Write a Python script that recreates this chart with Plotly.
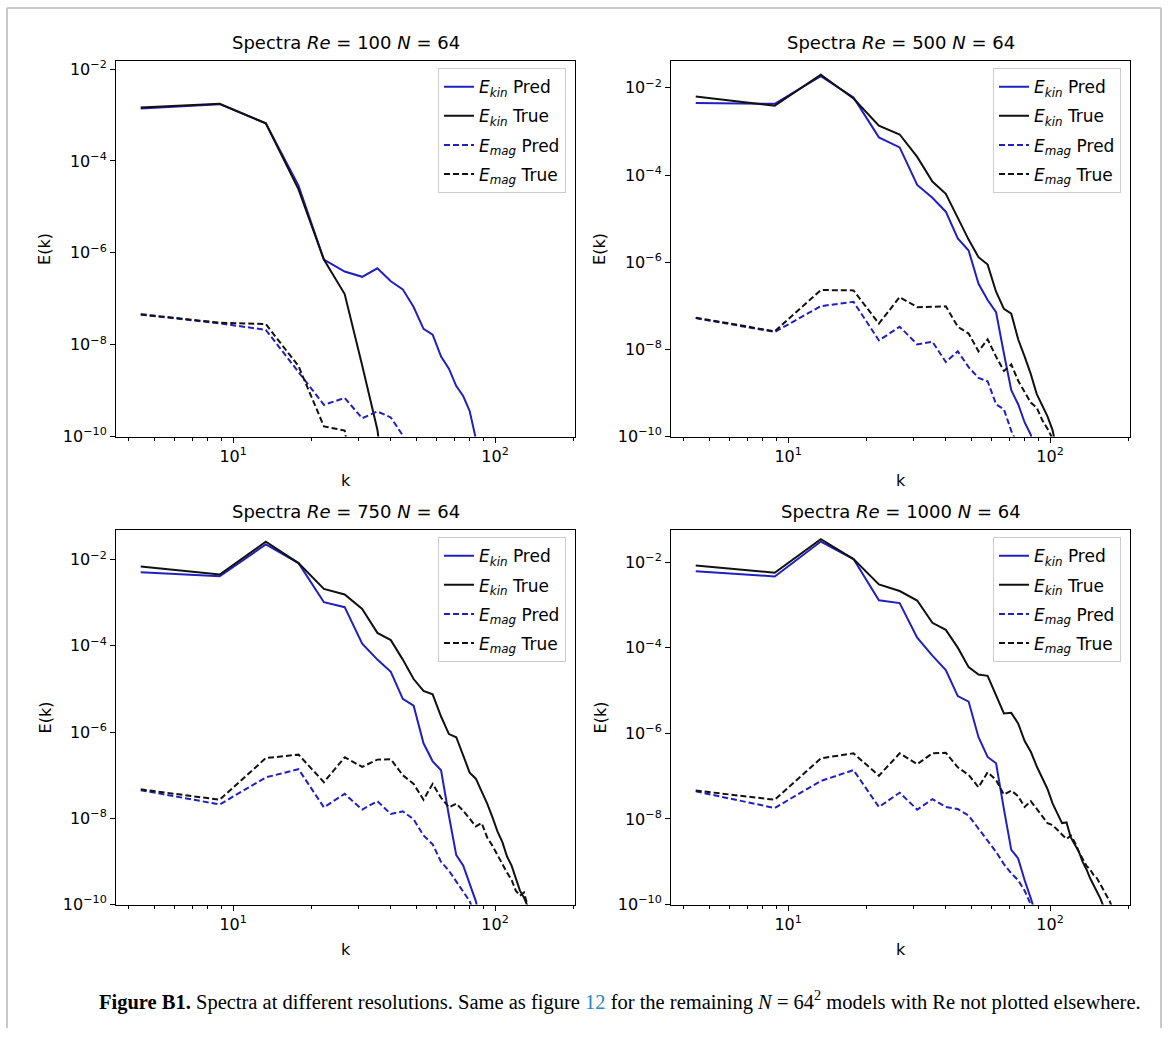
import plotly.graph_objects as go

# ---------------- data ----------------
K = [4.44, 8.89, 13.33, 17.77, 22.21, 26.66, 31.10, 35.54, 39.99, 44.43,
     48.87, 53.31, 57.76, 62.20, 66.64, 71.09, 75.53, 79.97, 84.42, 88.86,
     93.30, 97.74, 102.19, 106.63, 111.07, 115.52, 119.96, 124.40, 128.85, 133.29,
     137.73, 142.17, 146.62, 151.06, 155.50, 159.95, 164.39, 168.83, 173.28, 177.72]

RE_VALUES = [100, 500, 750, 1000]

ekin_pred_100 = [1.38e-3, 1.72e-3, 6.6e-4, 2.9e-5, 7.1e-7, 3.9e-7, 3.0e-7, 4.6e-7, 2.4e-7, 1.6e-7,
                 6.6e-8, 2.2e-8, 1.65e-8, 5.5e-9, 3.0e-9, 1.25e-9, 7.6e-10, 3.6e-10, 9e-11, 1e-11]
ekin_true_100 = [1.45e-3, 1.75e-3, 6.6e-4, 2.4e-5, 7.1e-7, 1.26e-7, 3.5e-9, 1.4e-10, 1e-12]
emag_pred_100 = [4.5e-8, 2.9e-8, 2.1e-8, 2.6e-9, 4.9e-10, 6.9e-10, 2.5e-10, 3.5e-10, 2.6e-10, 1.05e-10, 3e-11]
emag_true_100 = [4.6e-8, 3.0e-8, 2.8e-8, 3.4e-9, 1.66e-10, 1.35e-10, 1e-12]

ekin_pred_500 = [4.5e-3, 4.3e-3, 1.85e-2, 6.0e-3, 7.3e-4, 4.3e-4, 5.9e-5, 3.0e-5, 1.44e-5, 3.5e-6,
                 1.85e-6, 3.2e-7, 1.35e-7, 7.1e-8, 8e-9, 1.15e-9, 5.5e-10, 2.1e-10, 1.1e-10, 2e-11]
ekin_true_500 = [6.3e-3, 3.9e-3, 2.0e-2, 5.7e-3, 1.35e-3, 8.5e-4, 2.6e-4, 7.1e-5, 3.7e-5, 1.0e-5,
                 3.3e-6, 1.3e-6, 8.8e-7, 2.1e-7, 8.5e-8, 6.6e-8, 1.7e-8, 6.8e-9, 2.7e-9, 9.5e-10,
                 5.2e-10, 2.9e-10, 1.4e-10, 4e-11]
emag_pred_500 = [5.2e-8, 2.5e-8, 9.8e-8, 1.23e-7, 1.6e-8, 3.3e-8, 1.3e-8, 1.5e-8, 5.1e-9, 9e-9,
                 3.9e-9, 2.2e-9, 1.85e-9, 5.5e-10, 4.2e-10, 1.35e-10, 6e-11]
emag_true_500 = [5.3e-8, 2.6e-8, 2.3e-7, 2.25e-7, 3.9e-8, 1.58e-7, 9.3e-8, 9.7e-8, 9.7e-8, 3.3e-8,
                 2.3e-8, 9e-9, 1.7e-8, 6.8e-9, 3.2e-9, 4.5e-9, 1.9e-9, 1.05e-9, 6e-10, 4.6e-10,
                 2.4e-10, 1.5e-10, 9e-11, 1e-11]

ekin_pred_750 = [5.1e-3, 4.1e-3, 2.25e-2, 8.3e-3, 1.03e-3, 7.9e-4, 1.13e-4, 4.8e-5, 2.5e-5, 5.9e-6,
                 4.1e-6, 5.5e-7, 2.1e-7, 1.3e-7, 1.15e-8, 1.4e-9, 8.1e-10, 3.1e-10, 1.2e-10, 3e-11]
ekin_true_750 = [6.9e-3, 4.5e-3, 2.6e-2, 8.3e-3, 2.1e-3, 1.56e-3, 7.2e-4, 2.0e-4, 1.36e-4, 4.8e-5,
                 1.7e-5, 9e-6, 7.5e-6, 2.3e-6, 9e-7, 7.6e-7, 2.9e-7, 1.15e-7, 8.3e-8, 4.3e-8,
                 2.2e-8, 1.05e-8, 4.9e-9, 2.8e-9, 1.3e-9, 8.1e-10, 3.8e-10, 2.1e-10, 1.45e-10, 9e-11, 1e-11]
emag_pred_750 = [4.5e-8, 2.1e-8, 8.9e-8, 1.38e-7, 1.8e-8, 3.7e-8, 1.6e-8, 2.5e-8, 1.26e-8, 1.45e-8,
                 9.5e-9, 4e-9, 2.5e-9, 9.8e-10, 6.1e-10, 3.4e-10, 2.1e-10, 1.2e-10, 5e-11]
emag_true_750 = [4.7e-8, 2.7e-8, 2.5e-7, 3.0e-7, 6.9e-8, 2.6e-7, 1.56e-7, 2.3e-7, 2.35e-7, 1e-7,
                 6.3e-8, 2.7e-8, 6.3e-8, 3.0e-8, 1.8e-8, 2.2e-8, 1.5e-8, 9.5e-9, 6.5e-9, 7.8e-9,
                 3.6e-9, 2.3e-9, 1.4e-9, 8.1e-10, 5.5e-10, 3.8e-10, 2.1e-10, 1.6e-10, 1.9e-10, 9e-11, 1e-11]

ekin_pred_1000 = [6.1e-3, 4.6e-3, 3.0e-2, 1.17e-2, 1.28e-3, 1.1e-3, 1.7e-4, 6.5e-5, 3.0e-5, 7.4e-6,
                  5.5e-6, 8.1e-7, 2.8e-7, 2.0e-7, 1.7e-8, 1.9e-9, 1.2e-9, 3.7e-10, 1.4e-10, 5e-11]
ekin_true_1000 = [8.3e-3, 5.6e-3, 3.4e-2, 1.17e-2, 3.0e-3, 2.1e-3, 1.26e-3, 3.8e-4, 2.6e-4, 1.0e-4,
                  3.5e-5, 2.35e-5, 2.2e-5, 8.1e-6, 2.9e-6, 3.0e-6, 1.7e-6, 6.6e-7, 3.7e-7, 1.7e-7,
                  8.9e-8, 5e-8, 2.3e-8, 1.3e-8, 8e-9, 8.3e-9, 3.7e-9, 2.5e-9, 1.7e-9, 9.8e-10,
                  6.6e-10, 4.1e-10, 2.8e-10, 2.1e-10, 1.4e-10, 9e-11, 4e-11]
emag_pred_1000 = [4.4e-8, 1.8e-8, 7.7e-8, 1.38e-7, 1.9e-8, 4.1e-8, 1.65e-8, 2.9e-8, 1.9e-8, 1.7e-8,
                  1.2e-8, 6e-9, 3.1e-9, 1.7e-9, 8.8e-10, 5.4e-10, 3.7e-10, 2.1e-10, 1e-10, 4e-11]
emag_true_1000 = [4.6e-8, 2.8e-8, 2.6e-7, 3.4e-7, 1.02e-7, 3.4e-7, 1.9e-7, 3.4e-7, 3.5e-7, 1.6e-7,
                  1.07e-7, 5.5e-8, 1.23e-7, 8.1e-8, 3.7e-8, 4.6e-8, 3.4e-8, 1.9e-8, 2.6e-8, 1.7e-8,
                  1.2e-8, 8e-9, 7.2e-9, 5.5e-9, 4.5e-9, 3.4e-9, 4.1e-9, 2.8e-9, 1.7e-9, 1.2e-9,
                  8e-10, 6.6e-10, 4.9e-10, 4.1e-10, 3e-10, 2.3e-10, 1.7e-10, 1.2e-10, 8e-11, 2e-11]

SERIES = {
    100: (ekin_pred_100, ekin_true_100, emag_pred_100, emag_true_100),
    500: (ekin_pred_500, ekin_true_500, emag_pred_500, emag_true_500),
    750: (ekin_pred_750, ekin_true_750, emag_pred_750, emag_true_750),
    1000: (ekin_pred_1000, ekin_true_1000, emag_pred_1000, emag_true_1000),
}

Y_TOP = {100: -1.83, 500: -1.39, 750: -1.32, 1000: -1.26}

X_TICKS = [10, 100]
X_TICKTEXT = ["10<sup>1</sup>", "10<sup>2</sup>"]
X_MINOR = [4, 5, 6, 7, 8, 9, 20, 30, 40, 50, 60, 70, 80, 90, 200]
Y_TICKS = [1e-10, 1e-8, 1e-6, 1e-4, 1e-2]
Y_TICKTEXT = ["10<sup>\u221210</sup>", "10<sup>\u22128</sup>", "10<sup>\u22126</sup>",
              "10<sup>\u22124</sup>", "10<sup>\u22122</sup>"]

LEGEND_NAMES = ["<i>E</i><sub><i>kin</i></sub> Pred", "<i>E</i><sub><i>kin</i></sub> True",
                "<i>E</i><sub><i>mag</i></sub> Pred", "<i>E</i><sub><i>mag</i></sub> True"]

# ---------------- layout geometry (pixels) ----------------
W, H = 1170, 1038
BLUE = "#2020c0"
BLACK = "#111111"
FONT = "DejaVu Sans"

panels = {
    100: dict(x0=116, x1=575, y0=59, y1=439),
    500: dict(x0=671, x1=1130, y0=59, y1=439),
    750: dict(x0=116, x1=575, y0=534, y1=913),
    1000: dict(x0=671, x1=1130, y0=534, y1=913),
}

def px(x):
    return x / W

def py(y):
    return 1 - y / H

fig = go.Figure()
layout = dict(
    width=W, height=H, margin=dict(l=0, r=0, t=0, b=0),
    paper_bgcolor="white", plot_bgcolor="white",
    font=dict(family=FONT, size=16, color="black"),
    showlegend=True,
)
annotations = []
styles = [(BLUE, "solid"), (BLACK, "solid"), (BLUE, "6px,3px"), (BLACK, "6px,3px")]

for i, re in enumerate(RE_VALUES):
    idx = i + 1
    sfx = "" if idx == 1 else str(idx)
    p = panels[re]
    leg = "legend" if idx == 1 else f"legend{idx}"
    for j, series in enumerate(SERIES[re]):
        color, dash = styles[j]
        fig.add_trace(go.Scatter(
            x=K[:len(series)], y=series, mode="lines",
            line=dict(color=color, width=2, dash=dash),
            name=LEGEND_NAMES[j], legend=leg, legendgroup=f"g{idx}_{j}",
            xaxis=f"x{sfx}", yaxis=f"y{sfx}", showlegend=True,
        ))
    axis_common = dict(showline=True, mirror=True, linecolor="black", linewidth=1,
                       ticks="outside", ticklen=5, tickwidth=1, tickcolor="black",
                       showgrid=False, zeroline=False, type="log",
                       tickfont=dict(family=FONT, size=16, color="black"))
    layout[f"xaxis{sfx}"] = dict(
        axis_common, domain=[px(p["x0"]), px(p["x1"])], range=[0.553, 2.305],
        anchor=f"y{sfx}", tickvals=X_TICKS, ticktext=X_TICKTEXT,
        minor=dict(ticks="outside", ticklen=3, tickcolor="black", tickvals=X_MINOR, showgrid=False),
    )
    layout[f"yaxis{sfx}"] = dict(
        axis_common, domain=[py(p["y1"]), py(p["y0"])], range=[-10, Y_TOP[re]],
        anchor=f"x{sfx}", tickvals=Y_TICKS, ticktext=Y_TICKTEXT,
    )
    layout[leg] = dict(
        x=px(p["x1"] - 9), y=py(p["y0"] + 7), xanchor="right", yanchor="top",
        xref="paper", yref="paper",
        bgcolor="rgba(255,255,255,0.85)", bordercolor="#cccccc", borderwidth=1,
        font=dict(family=FONT, size=17, color="black"), tracegroupgap=4,
        itemwidth=30,
    )
    cx = (p["x0"] + p["x1"]) / 2
    annotations.append(dict(
        x=px(cx), y=py(p["y0"] - 6), xref="paper", yref="paper",
        xanchor="center", yanchor="bottom", showarrow=False,
        text=f"Spectra <i>Re</i> = {re} <i>N</i> = 64",
        font=dict(family=FONT, size=18, color="black"),
    ))
    annotations.append(dict(
        x=px(cx), y=py(p["y1"] + 45), xref="paper", yref="paper",
        xanchor="center", yanchor="middle", showarrow=False, text="k",
        font=dict(family=FONT, size=16, color="black"),
    ))
    annotations.append(dict(
        x=px(p["x0"] - 71), y=py((p["y0"] + p["y1"]) / 2), xref="paper", yref="paper",
        xanchor="center", yanchor="middle", showarrow=False, text="E(k)", textangle=-90,
        font=dict(family=FONT, size=16, color="black"),
    ))

annotations.append(dict(
    x=px(97), y=py(1010), xref="paper", yref="paper", xanchor="left", yanchor="middle",
    showarrow=False, align="left",
    text=("<b>Figure B1.</b> Spectra at different resolutions. Same as figure "
          "<span style='color:#2a86c0'>12</span> for the remaining <i>N</i> = 64<sup>2</sup> "
          "models with Re not plotted elsewhere."),
    font=dict(family="Liberation Serif", size=20.5, color="black"),
))
layout["annotations"] = annotations

frame = "#c8c8c8"
layout["shapes"] = [
    dict(type="line", xref="paper", yref="paper", x0=px(7), x1=px(1161), y0=py(5), y1=py(5),
         line=dict(color=frame, width=2)),
    dict(type="line", xref="paper", yref="paper", x0=px(7), x1=px(7), y0=py(5), y1=0,
         line=dict(color=frame, width=2)),
    dict(type="line", xref="paper", yref="paper", x0=px(1161), x1=px(1161), y0=py(5), y1=0,
         line=dict(color=frame, width=2)),
]

fig.update_layout(**layout)
fig.write_html("out.html")
